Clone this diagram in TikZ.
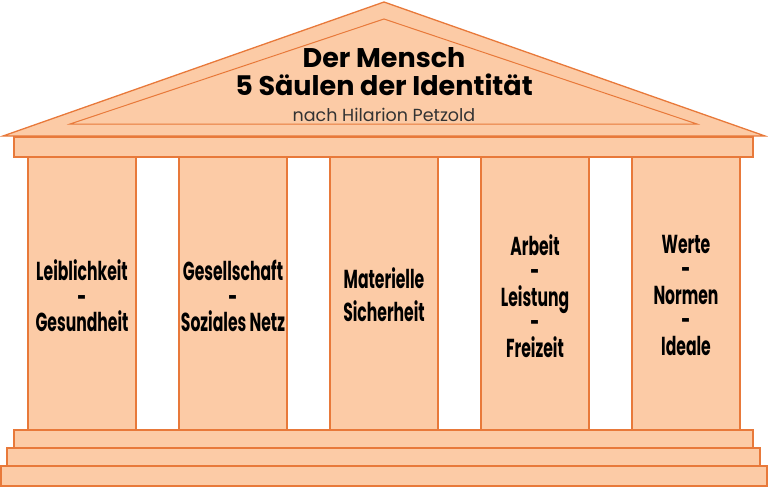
\documentclass[tikz,border=0pt]{standalone}
\usepackage{fontspec}
\setmainfont{Poppins}
\newfontfamily\pillarfont[FakeStretch=0.6]{Poppins}
\definecolor{peach}{HTML}{FCCBA6}
\definecolor{rust}{HTML}{E8793A}
\tikzset{
  part/.style={fill=peach, draw=rust, line width=1.3pt},
  pillartext/.style={align=center, font=\pillarfont\bfseries\fontsize{26}{25.5}\selectfont, text=black},
  titletext/.style={align=center, font=\bfseries\fontsize{27}{28}\selectfont, text=black},
}
\begin{document}
\begin{tikzpicture}[x=1pt,y=-1pt]
\useasboundingbox (0,0) rectangle (768,488);
% roof
\draw[part, line join=miter] (3,136) -- (384,2) -- (765,136) -- cycle;
\draw[rust, line width=1pt] (70,124) -- (384,19) -- (697,124) -- cycle;
% entablature
\draw[part] (14,137) rectangle (753,157);
% columns
\foreach \x in {28,179,330,481,632}
  \draw[part] (\x,157) rectangle (\x+108,430);
% steps
\draw[part] (14,430) rectangle (753,448);
\draw[part] (7,448) rectangle (760,466);
\draw[part] (1,466) rectangle (767,486);
% texts
\node[titletext] (title) at (384,72) {Der Mensch\\5 Säulen der Identität};
\node[font=\fontsize{17.5}{18}\selectfont, text=black!80] (sub) at (384,115) {nach Hilarion Petzold};
\node[pillartext] (p1) at (82,296) {Leiblichkeit\\-\\Gesundheit};
\node[pillartext] (p2) at (233,296) {Gesellschaft\\-\\Soziales Netz};
\node[pillartext, font=\pillarfont\bfseries\fontsize{26}{33}\selectfont] (p3) at (384,295) {Materielle\\Sicherheit};
\node[pillartext] (p4) at (535,296) {Arbeit\\-\\Leistung\\-\\Freizeit};
\node[pillartext] (p5) at (686,295) {Werte\\-\\Normen\\-\\Ideale};
\end{tikzpicture}
\end{document}
